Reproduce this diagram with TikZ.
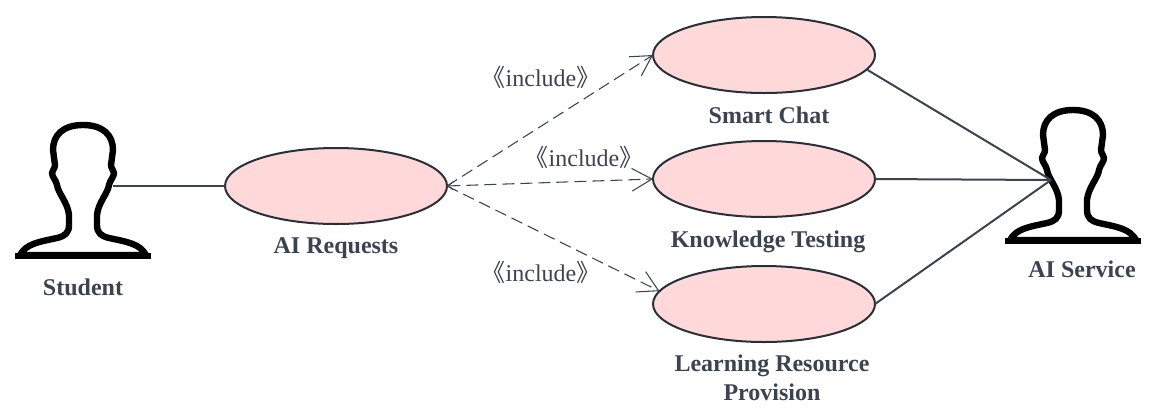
\documentclass[tikz,border=0pt]{standalone}
\usepackage{fontspec}
\setmainfont{Liberation Serif}
\newfontfamily\cjkfont{Noto Sans CJK SC}
\usetikzlibrary{shapes.geometric,arrows.meta}
\definecolor{ink}{HTML}{3B4350}
\definecolor{usefill}{HTML}{FFD9D9}
\newcommand{\incl}{{\cjkfont 《}include{\cjkfont 》}}
\tikzset{
  x=0.75pt,y=-0.75pt,
  usecase/.style={ellipse,draw=ink!70!black,fill=usefill,line width=1.5pt,minimum width=166.5pt,minimum height=57pt,inner sep=0pt,outer sep=0pt},
  label/.style={font=\fontsize{18}{22}\selectfont\bfseries,text=ink,align=center,inner sep=0pt},
  inctext/.style={font=\fontsize{18}{20}\selectfont,text=ink,inner sep=0pt},
  assoc/.style={draw=ink,line width=1.5pt},
  dep/.style={draw=ink,line width=0.8pt,dash pattern=on 9pt off 4.5pt,
    -{Straight Barb[length=15pt,width=17pt,line width=0.8pt]}},
  personicon/.pic={
    \draw[black,line width=4.8pt,line join=round,fill=white]
      (-63,130) .. controls (-57,119) and (-45,117) .. (-26,113)
      .. controls (-18,111) and (-14,108) .. (-14,100) -- (-14,90)
      .. controls (-15,78) and (-25,68) .. (-26,60)
      .. controls (-27,55) and (-31,52) .. (-31,48)
      .. controls (-31,45) and (-28,44) .. (-28,40) -- (-30,25)
      .. controls (-30,10) and (-20,0) .. (0,0)
      .. controls (20,0) and (30,10) .. (30,25) -- (28,40)
      .. controls (28,44) and (31,45) .. (31,48)
      .. controls (31,52) and (27,55) .. (26,60)
      .. controls (25,68) and (15,78) .. (14,90) -- (14,100)
      .. controls (14,108) and (18,111) .. (26,113)
      .. controls (45,117) and (57,119) .. (63,130) -- cycle;
    \fill[black] (-68,127.5) rectangle (68,134);
  }
}
\begin{document}
\begin{tikzpicture}
\useasboundingbox (0,0) rectangle (1152,412);
\pic at (83,125) {personicon};
\pic at (1073,110) {personicon};
\coordinate (student) at (113,186);
\coordinate (service) at (1051,180);
\node[usecase] (req) at (336,186) {};
\node[usecase] (chat) at (764,55) {};
\node[usecase] (know) at (764,179) {};
\node[usecase] (learn) at (764,304) {};
\node[label] (lstudent) at (83,287) {Student};
\node[label] (lreq) at (336,248) {AI Requests};
\node[label] (lchat) at (769,115) {Smart Chat};
\node[label] (lknow) at (768,242) {Knowledge Testing};
\node[label] (llearn) at (772,377.5) {Learning Resource\\Provision};
\node[label] (lservice) at (1082,269) {AI Service};
\node[inctext] (i1) at (541,77.5) {\incl};
\node[inctext] (i2) at (584,157) {\incl};
\node[inctext] (i3) at (541,272.5) {\incl};
\draw[assoc] (student) -- (req.west);
\draw[assoc] (chat.-8) -- (service);
\draw[assoc] (know.east) -- (service);
\draw[assoc] (learn.east) -- (service);
\draw[dep] (req.east) -- (chat.west);
\draw[dep,{Straight Barb[length=4pt,width=6pt,line width=0.8pt]}-{Straight Barb[length=15pt,width=17pt,line width=0.8pt]}] (req.east) -- (know.west);
\draw[dep] (req.east) -- (learn.173);
\end{tikzpicture}
\end{document}
